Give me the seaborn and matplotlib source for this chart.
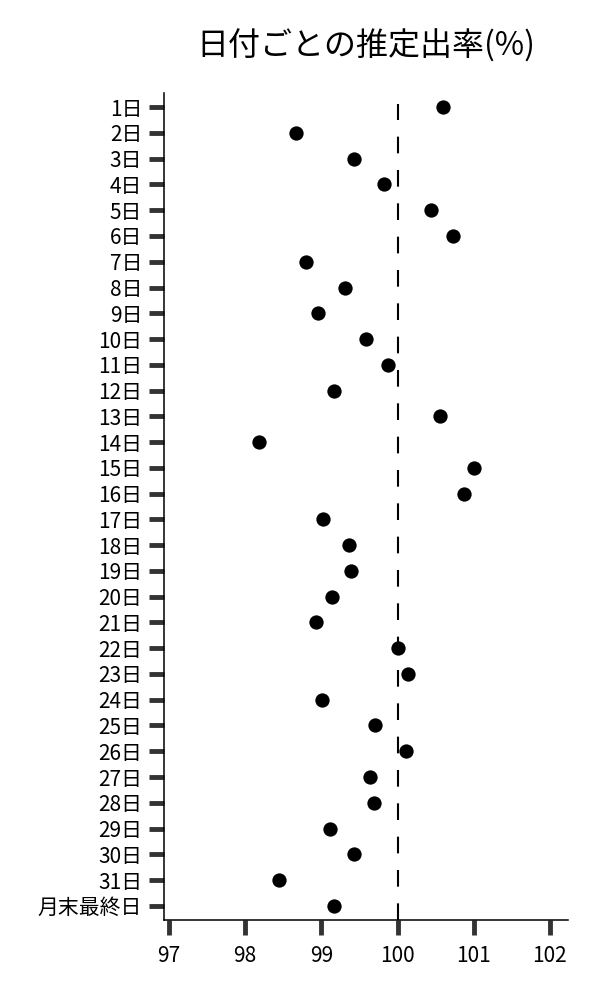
import matplotlib
matplotlib.use("Agg")
import matplotlib.pyplot as plt
import seaborn as sns
import pandas as pd

# 日付ラベルと推定出率(%)
days = [f"{i}日" for i in range(1, 32)] + ["月末最終日"]
rates = [100.60, 98.665, 99.43, 99.825, 100.44, 100.725, 98.805, 99.315, 98.95, 99.59,
         99.875, 99.16, 100.56, 98.185, 101.00, 100.87, 99.025, 99.36, 99.39, 99.135,
         98.935, 100.01, 100.14, 99.01, 99.705, 100.11, 99.635, 99.69, 99.12, 99.435,
         98.45, 99.165]
x_ticks = [97, 98, 99, 100, 101, 102]
ref_line = 100

df = pd.DataFrame({"day": days, "rate": rates})

sns.set_theme(style="ticks")
plt.rcParams["font.family"] = ["Noto Sans CJK JP", "DejaVu Sans"]

fig = plt.figure(figsize=(6, 10), dpi=100)
ax = fig.add_axes([0.274, 0.08, 0.673, 0.827])

sns.stripplot(data=df, x="rate", y="day", order=days, jitter=False,
              color="black", size=10.3, linewidth=0, ax=ax, zorder=3)

# 100%の基準線 (下端から破線)
ax.axvline(ref_line, ymax=0.987, color="black", lw=1.5,
           linestyle=(0, (8, 8)), zorder=2)

ax.set_xlim(96.94, 102.24)
ax.set_ylim(len(days) - 0.45, -0.55)
ax.set_xticks(x_ticks)
ax.set_xticklabels([str(t) for t in x_ticks])
ax.set_xlabel("")
ax.set_ylabel("")
ax.tick_params(axis="both", length=11, width=3.5, color="#333333",
               labelsize=15, labelcolor="black", pad=5)
ax.tick_params(axis="x", pad=7)

sns.despine(ax=ax)
for s in ["left", "bottom"]:
    ax.spines[s].set_color("black")
    ax.spines[s].set_linewidth(1.1)

ax.set_title("日付ごとの推定出率(%)", fontsize=23, pad=27, color="black")

fig.savefig("out.png", dpi=100, facecolor="white")
